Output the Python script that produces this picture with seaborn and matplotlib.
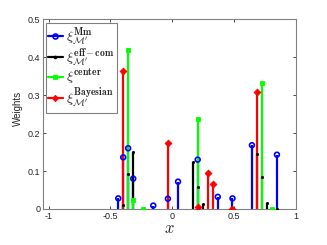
import numpy as np
import pandas as pd
import matplotlib
matplotlib.use("Agg")
import matplotlib.pyplot as plt
from matplotlib.lines import Line2D
from matplotlib.legend_handler import HandlerLine2D
import seaborn as sns

# ---- data ----
x_mm = [-0.437, -0.397, -0.357, -0.316, -0.154, -0.036, 0.046, 0.205, 0.367, 0.486, 0.643, 0.845]
w_mm = [0.028, 0.136, 0.160, 0.080, 0.009, 0.027, 0.072, 0.130, 0.032, 0.028, 0.168, 0.143]

x_eff = [-0.397, -0.357, -0.316, 0.164, 0.205, 0.246, 0.686, 0.726, 0.767, 0.845]
w_eff = [0.011, 0.092, 0.151, 0.123, 0.057, 0.012, 0.144, 0.085, 0.017, 0.001]

x_center = [-0.357, -0.316, -0.233, 0.205, 0.726, 0.802]
w_center = [0.418, 0.023, 0.001, 0.236, 0.331, 0.001]

x_bayes = [-0.397, -0.036, 0.205, 0.286, 0.327, 0.486, 0.686]
w_bayes = [0.364, 0.175, 0.006, 0.096, 0.065, 0.001, 0.307]

labels = [r"$\xi^{\mathbf{Mm}}_{\mathcal{M}'}$",
          r"$\xi^{\mathbf{eff-com}}_{\mathcal{M}'}$",
          r"$\xi^{\mathbf{center}}$",
          r"$\xi^{\mathbf{Bayesian}}_{\mathcal{M}'}$"]
xticks = [-1, -0.5, 0, 0.5, 1]
yticks = [0, 0.1, 0.2, 0.3, 0.4, 0.5]

# ---- style ----
sns.set_style("ticks")
plt.rcParams["font.family"] = ["Liberation Sans", "DejaVu Sans"]
plt.rcParams["mathtext.fontset"] = "cm"
axcol = "#262626"

fig = plt.figure(figsize=(3.27, 2.45), dpi=100)
ax = fig.add_axes([0.1315, 0.147, 0.774, 0.775])

series = [
    (x_mm, w_mm, "#0000ff", "o", 12, 3.6),
    (x_eff, w_eff, "#000000", ".", 10, 4.0),
    (x_center, w_center, "#00ff00", "s", 9, 3.0),
    (x_bayes, w_bayes, "#ff0000", "D", 12, 3.2),
]

for i, (xs, ws, col, mk, s, ms) in enumerate(series):
    ax.vlines(xs, 0, ws, color=col, linewidth=1.6, zorder=2 + i * 0.1)

for i, (xs, ws, col, mk, s, ms) in enumerate(series):
    df = pd.DataFrame({"x": xs, "w": ws})
    fc = "none" if mk == "o" else col
    sns.scatterplot(data=df, x="x", y="w", marker=mk, ax=ax, zorder=3 + i * 0.1,
                    legend=False, s=s, facecolor=fc, edgecolor=col,
                    linewidth=1.2 if mk == "o" else 0.6)

ax.set_xlim(-1.045, 1.0)
ax.set_ylim(0, 0.5)
ax.set_xticks(xticks)
ax.set_xticklabels(["-1", "-0.5", "0", "0.5", "1"])
ax.set_yticks(yticks)
ax.set_yticklabels(["0", "0.1", "0.2", "0.3", "0.4", "0.5"])
ax.tick_params(direction="in", length=2.5, width=0.6, labelsize=6.5, colors=axcol,
               top=True, right=True, pad=2)
for sp in ax.spines.values():
    sp.set_visible(True)
    sp.set_color("#808080")
    sp.set_linewidth(0.8)

ax.set_xlabel(r"$x$", fontsize=12, color=axcol, labelpad=0)
ax.set_ylabel("Weights", fontsize=7, color=axcol)
ax.yaxis.set_label_coords(-0.08, 0.53)


class EndMarkerHandler(HandlerLine2D):
    def get_xdata(self, legend, xdescent, ydescent, width, height, fontsize):
        xdata = np.array([-xdescent, -xdescent + width])
        xmark = np.array([-xdescent + width * 0.88])
        return xdata, xmark


handles = []
for (xs, ws, col, mk, s, ms) in series:
    fc = "none" if mk == "o" else col
    handles.append(Line2D([], [], color=col, marker=mk, markersize=ms, markerfacecolor=fc,
                          markeredgecolor=col, markeredgewidth=1.2 if mk == "o" else 0.6,
                          linewidth=1.6))
leg = ax.legend(handles, labels, loc="upper left", bbox_to_anchor=(-0.006, 1.0),
                fontsize=10, handlelength=1.1, handletextpad=0.25,
                borderpad=0.15, labelspacing=-0.1, borderaxespad=0.3,
                handler_map={Line2D: EndMarkerHandler()},
                frameon=True, fancybox=False, framealpha=1)
leg.get_frame().set_edgecolor("#808080")
leg.get_frame().set_linewidth(0.8)

fig.savefig("out.png", dpi=100)
